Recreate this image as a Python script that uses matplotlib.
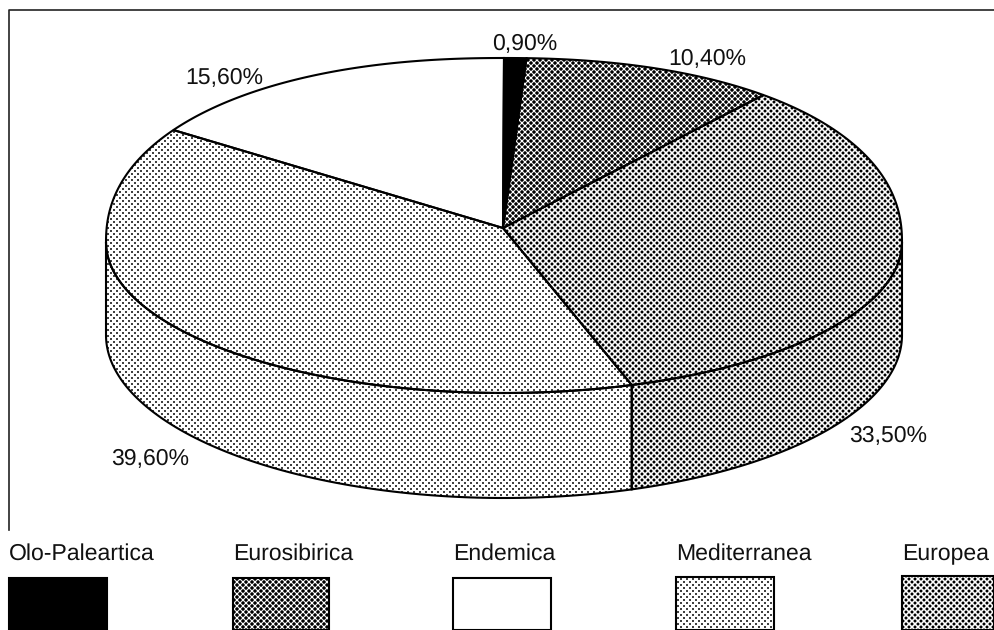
import matplotlib
matplotlib.use('Agg')
import matplotlib.pyplot as plt
from matplotlib.patches import Polygon, Rectangle
import numpy as np

plt.rcParams['font.family'] = ['Liberation Sans', 'DejaVu Sans']
plt.rcParams['text.hinting'] = 'no_hinting'
plt.rcParams['text.hinting_factor'] = 1

# clockwise from the top of the pie
slices = ['Olo-Paleartica', 'Eurosibirica', 'Europea', 'Mediterranea', 'Endemica']
values = [0.9, 10.4, 33.5, 39.6, 15.6]
value_labels = ['0,90%', '10,40%', '33,50%', '39,60%', '15,60%']
legend_order = ['Olo-Paleartica', 'Eurosibirica', 'Endemica', 'Mediterranea', 'Europea']

# dot radius of the halftone for each slice, or a flat colour
dot_size = {'Olo-Paleartica': 'black', 'Eurosibirica': 1.75, 'Europea': 1.45,
            'Mediterranea': 0.95, 'Endemica': 'white'}

W, H = 994, 630
# the scanned pie is not a clean ellipse: taller and boxier above its widest line
cx, cy, rx, ry_up, ry_down = 504, 242, 398, 184, 151
base_cy, base_ry = 335, 163
apex = (503, 228)
boxy = 2.2
label_pos = [(525, 44), (707, 59), (888, 436), (150, 459), (224, 78)]
legend_x = [9, 233, 453, 676, 902]
legend_w = [98, 96, 98, 98, 92]
legend_y = [578, 578, 578, 577, 576]

fig = plt.figure(figsize=(W / 100, H / 100), dpi=100)
ax = fig.add_axes([0, 0, 1, 1])
ax.set_xlim(0, W)
ax.set_ylim(H, 0)
ax.axis('off')


def halftone(r, pitch=6.0):
    xx, yy = np.meshgrid(np.arange(W) + 0.5, np.arange(H) + 0.5)
    u = (xx + yy) / pitch
    v = (xx - yy) / pitch
    d = np.hypot(u - np.round(u), v - np.round(v)) * pitch / np.sqrt(2)
    return np.clip(d - r + 0.5, 0, 1)


def rim(t):
    t = np.radians(t)
    s, c = np.sin(t), np.cos(t)
    up = cy - ry_up * np.clip(1 - np.abs(s) ** boxy, 0, 1) ** (1 / boxy)
    down = cy + ry_down * np.abs(c)
    return np.column_stack([cx + rx * s, np.where(c > 0, up, down)])


def base(t):
    t = np.radians(t)
    return np.column_stack([cx + rx * np.sin(t), base_cy + base_ry * np.abs(np.cos(t))])


def fill(points, style):
    if isinstance(style, str):
        ax.add_patch(Polygon(points, closed=True, fc=style, ec='none', zorder=2))
    else:
        im = ax.imshow(halftone(style), cmap='gray', vmin=0, vmax=1, extent=(0, W, H, 0),
                       aspect='auto', interpolation='nearest', zorder=2)
        im.set_clip_path(Polygon(points, closed=True, transform=ax.transData))


cum = np.concatenate([[0], np.cumsum(values)]) * 3.6

# side wall first
for i, name in enumerate(slices):
    a0, a1 = max(cum[i], 90), min(cum[i + 1], 270)
    if a1 <= a0:
        continue
    t = np.linspace(a0, a1, 160)
    wall = np.vstack([rim(t), base(t[::-1])])
    fill(wall, dot_size[name])
    ax.add_patch(Polygon(wall, closed=True, fc='none', ec='black', lw=1.5, zorder=3))

# top of the pie
for i, name in enumerate(slices):
    t = np.linspace(cum[i], cum[i + 1], 160)
    top = np.vstack([apex, rim(t)])
    fill(top, dot_size[name])
    ax.add_patch(Polygon(top, closed=True, fc='none', ec='black', lw=1.5, zorder=3))

for (x, y), s in zip(label_pos, value_labels):
    ax.text(x, y, s, fontsize=16.3, ha='center', va='center', color='#111111', zorder=4)

# frame, only top and left are visible
ax.plot([9, 9, W], [530, 10, 10], color='#222222', lw=1.2, zorder=1)

for name, x, w, y in zip(legend_order, legend_x, legend_w, legend_y):
    ax.text(x, 554, name, fontsize=16.3, ha='left', va='center', color='#111111')
    box = [(x, y), (x + w, y), (x + w, H), (x, H)]
    fill(box, dot_size[name])
    ax.add_patch(Rectangle((x, y), w, H - y, fc='none', ec='black', lw=1.5, zorder=3))

ax.set_xlim(0, W)
ax.set_ylim(H, 0)
fig.savefig('out.png', dpi=100)
